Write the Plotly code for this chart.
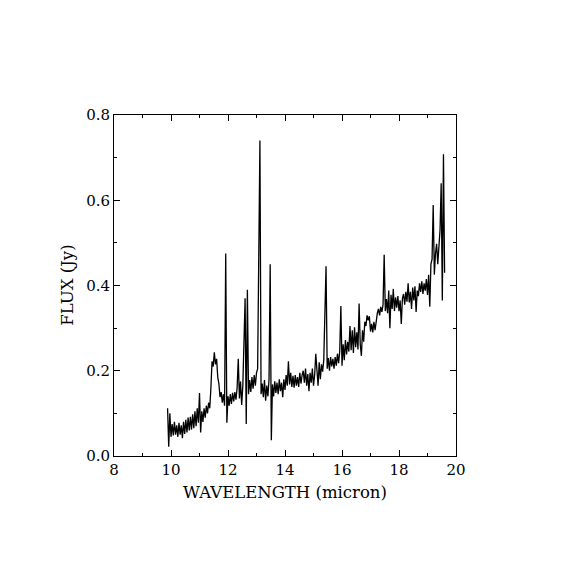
import plotly.graph_objects as go

# spectrum sampled on a regular grid: first wavelength and step (micron)
wave_start = 9.88
wave_step = 0.04

# flux in Jy, 10 samples (0.4 micron) per row
flux = [
    0.112, 0.022, 0.100, 0.045, 0.075, 0.048, 0.080, 0.050, 0.072, 0.045,  # 9.88
    0.078, 0.050, 0.072, 0.042, 0.080, 0.052, 0.085, 0.055, 0.090, 0.060,  # 10.28
    0.092, 0.062, 0.098, 0.065, 0.105, 0.070, 0.112, 0.078, 0.148, 0.055,  # 10.68
    0.105, 0.080, 0.112, 0.090, 0.118, 0.100, 0.125, 0.112, 0.160, 0.222,  # 11.08
    0.210, 0.243, 0.215, 0.228, 0.185, 0.170, 0.138, 0.150, 0.125, 0.145,  # 11.48
    0.118, 0.475, 0.078, 0.140, 0.118, 0.145, 0.122, 0.148, 0.128, 0.150,  # 11.88
    0.132, 0.160, 0.228, 0.135, 0.175, 0.120, 0.165, 0.260, 0.370, 0.075,  # 12.28
    0.390, 0.145, 0.178, 0.150, 0.185, 0.158, 0.190, 0.165, 0.195, 0.205,  # 12.68
    0.497, 0.740, 0.145, 0.170, 0.138, 0.178, 0.130, 0.165, 0.140, 0.180,  # 13.08
    0.450, 0.037, 0.168, 0.140, 0.175, 0.148, 0.172, 0.145, 0.180, 0.152,  # 13.48
    0.172, 0.138, 0.180, 0.155, 0.190, 0.165, 0.222, 0.168, 0.195, 0.162,  # 13.88
    0.188, 0.160, 0.190, 0.165, 0.185, 0.162, 0.195, 0.170, 0.190, 0.200,  # 14.28
    0.172, 0.205, 0.165, 0.192, 0.152, 0.195, 0.172, 0.205, 0.165, 0.190,  # 14.68
    0.240, 0.200, 0.165, 0.220, 0.180, 0.215, 0.198, 0.225, 0.325, 0.445,  # 15.08
    0.205, 0.230, 0.200, 0.232, 0.210, 0.228, 0.205, 0.232, 0.212, 0.240,  # 15.48
    0.218, 0.245, 0.352, 0.212, 0.262, 0.225, 0.272, 0.238, 0.268, 0.245,  # 15.88
    0.305, 0.248, 0.295, 0.242, 0.302, 0.255, 0.290, 0.250, 0.358, 0.262,  # 16.28
    0.235, 0.295, 0.268, 0.315, 0.305, 0.330, 0.318, 0.328, 0.292, 0.310,  # 16.68
    0.290, 0.315, 0.295, 0.318, 0.335, 0.345, 0.330, 0.350, 0.338, 0.355,  # 17.08
    0.472, 0.340, 0.368, 0.335, 0.388, 0.300, 0.378, 0.345, 0.392, 0.340,  # 17.48
    0.372, 0.348, 0.375, 0.340, 0.365, 0.310, 0.370, 0.380, 0.355, 0.385,  # 17.88
    0.362, 0.405, 0.360, 0.385, 0.345, 0.395, 0.365, 0.398, 0.338, 0.388,  # 18.28
    0.375, 0.405, 0.385, 0.410, 0.380, 0.405, 0.388, 0.415, 0.378, 0.425,  # 18.68
    0.350, 0.450, 0.462, 0.589, 0.425, 0.475, 0.498, 0.450, 0.495, 0.530,  # 19.08
    0.640, 0.365, 0.708, 0.430,                                            # 19.48
]

x_ticks = [8, 10, 12, 14, 16, 18, 20]
y_ticks = [0.0, 0.2, 0.4, 0.6, 0.8]
y_tick_labels = ["0.0", "0.2", "0.4", "0.6", "0.8"]

font = "DejaVu Serif"

fig = go.Figure()
fig.add_trace(go.Scatter(
    y=flux, x0=wave_start, dx=wave_step, mode="lines",
    line=dict(color="black", width=1.3), showlegend=False,
))

axis_style = dict(
    showline=True, linecolor="black", linewidth=1, mirror="allticks",
    ticks="inside", ticklen=6, tickcolor="black", tickwidth=1,
    showgrid=False, zeroline=False,
    tickfont=dict(family=font, size=15, color="black"),
)

fig.update_xaxes(range=[8, 20], tickvals=x_ticks,
                 minor=dict(dtick=1, ticks="inside", ticklen=3, tickcolor="black"),
                 **axis_style)
fig.update_yaxes(range=[0, 0.8], tickvals=y_ticks, ticktext=y_tick_labels,
                 minor=dict(dtick=0.1, ticks="inside", ticklen=3, tickcolor="black"),
                 **axis_style)

fig.add_annotation(text="WAVELENGTH (micron)", xref="paper", yref="paper",
                   x=0.5, y=-0.108, xanchor="center", yanchor="middle",
                   showarrow=False, font=dict(family=font, size=16.5, color="black"))
fig.add_annotation(text="FLUX (Jy)", xref="paper", yref="paper",
                   x=-0.137, y=0.5, xanchor="center", yanchor="middle", textangle=-90,
                   showarrow=False, font=dict(family=font, size=16.5, color="black"))

# page body adds ~8px offset, so margins are shifted to keep the frame in place
fig.update_layout(
    width=570, height=570,
    margin=dict(l=106, r=122, t=107, b=122),
    paper_bgcolor="white", plot_bgcolor="white",
)

fig.write_html("out.html")
